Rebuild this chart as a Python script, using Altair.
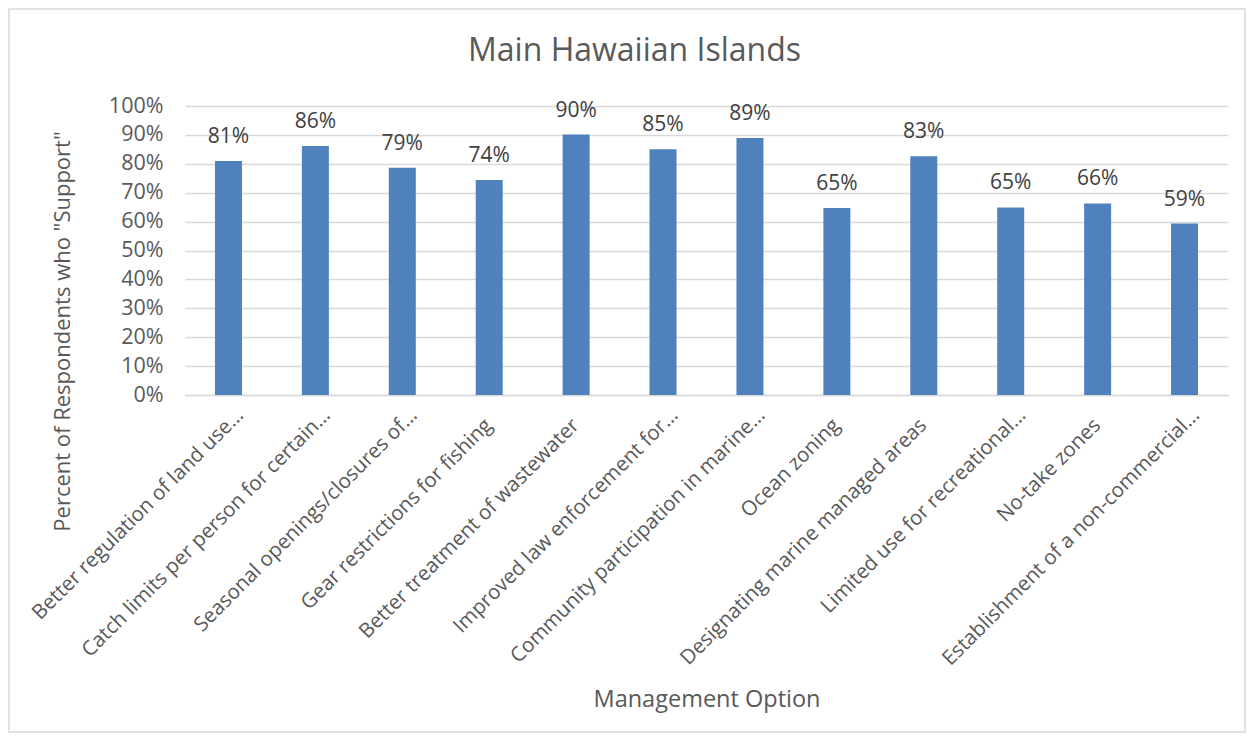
import altair as alt
import pandas as pd

options = [
    "Better regulation of land use…",
    "Catch limits per person for certain…",
    "Seasonal openings/closures of…",
    "Gear restrictions for fishing",
    "Better treatment of wastewater",
    "Improved law enforcement for…",
    "Community participation in marine…",
    "Ocean zoning",
    "Designating marine managed areas",
    "Limited use for recreational…",
    "No-take zones",
    "Establishment of a non-commercial…",
]
support = [0.81, 0.862, 0.786, 0.744, 0.901, 0.85, 0.889, 0.647, 0.826, 0.649, 0.663, 0.593]
y_ticks = [0.0, 0.1, 0.2, 0.3, 0.4, 0.5, 0.6, 0.7, 0.8, 0.9, 1.0]

df = pd.DataFrame({"option": options, "support": support})

FONT = "Open Sans"
GREY = "#595959"
TRUNC = "indexof(datum.label, '…') >= 0"

x_enc = alt.X(
    "option:N",
    sort=options,
    scale=alt.Scale(paddingInner=0, paddingOuter=0),
    axis=alt.Axis(
        title="Management Option",
        titleFont=FONT, titleFontSize=23.5, titleFontWeight="normal", titleColor=GREY,
        titleY=304, titleBaseline="middle",
        labelAngle=-45, labelAlign="right", labelBaseline="alphabetic",
        labelFont=FONT, labelFontSize=20.5, labelColor=GREY,
        labelPadding={"condition": {"test": TRUNC, "value": 21}, "value": 31},
        labelOffset={"condition": {"test": TRUNC, "value": 16}, "value": 4},
        labelLimit=500, labelOverlap=False,
        ticks=False, domain=True, domainColor="#d9d9d9", domainWidth=1.5,
        grid=False,
    ),
)
y_enc = alt.Y(
    "support:Q",
    scale=alt.Scale(domain=[0, 1], nice=False),
    axis=alt.Axis(
        title='Percent of Respondents who "Support"',
        titleFont=FONT, titleFontSize=22, titleFontWeight="normal", titleColor=GREY,
        titleX=-123, titleY=225, titleAngle=-90, titleBaseline="middle", titleAlign="center",
        values=y_ticks, format=".0%", labelOverlap=False, tickCount=len(y_ticks),
        labelFont=FONT, labelFontSize=21.5, labelColor=GREY, labelPadding=22,
        ticks=False, domain=False,
        grid=True, gridColor="#d9d9d9", gridWidth=1.5,
    ),
)

base = alt.Chart(df).encode(x=x_enc, y=y_enc)

bars = base.mark_bar(size=27, color="#4F81BD")

text = base.mark_text(
    font=FONT, fontSize=21, color="#404040", baseline="alphabetic", dy=-18
).encode(text=alt.Text("support:Q", format=".0%"))

border = alt.Chart(pd.DataFrame({"b": [0]})).mark_rect(
    filled=False, stroke="#d9d9d9", strokeWidth=1.5
).encode(
    x=alt.value(-176), x2=alt.value(1060), y=alt.value(-97), y2=alt.value(626)
)

chart = (
    alt.layer(bars, text, border)
    .properties(
        width=1043,
        height=289,
        title=alt.TitleParams(
            "Main Hawaiian Islands",
            font=FONT, fontSize=32, fontWeight="normal", color=GREY,
            anchor="middle", dx=-72, offset=-85, baseline="alphabetic",
        ),
        autosize=alt.AutoSizeParams(type="none"),
        padding={"left": 177, "top": 98, "right": 19, "bottom": 339},
        background="white",
    )
    .configure_view(stroke=None)
)

chart.save("out.html", embed_options={"renderer": "svg", "actions": False})
